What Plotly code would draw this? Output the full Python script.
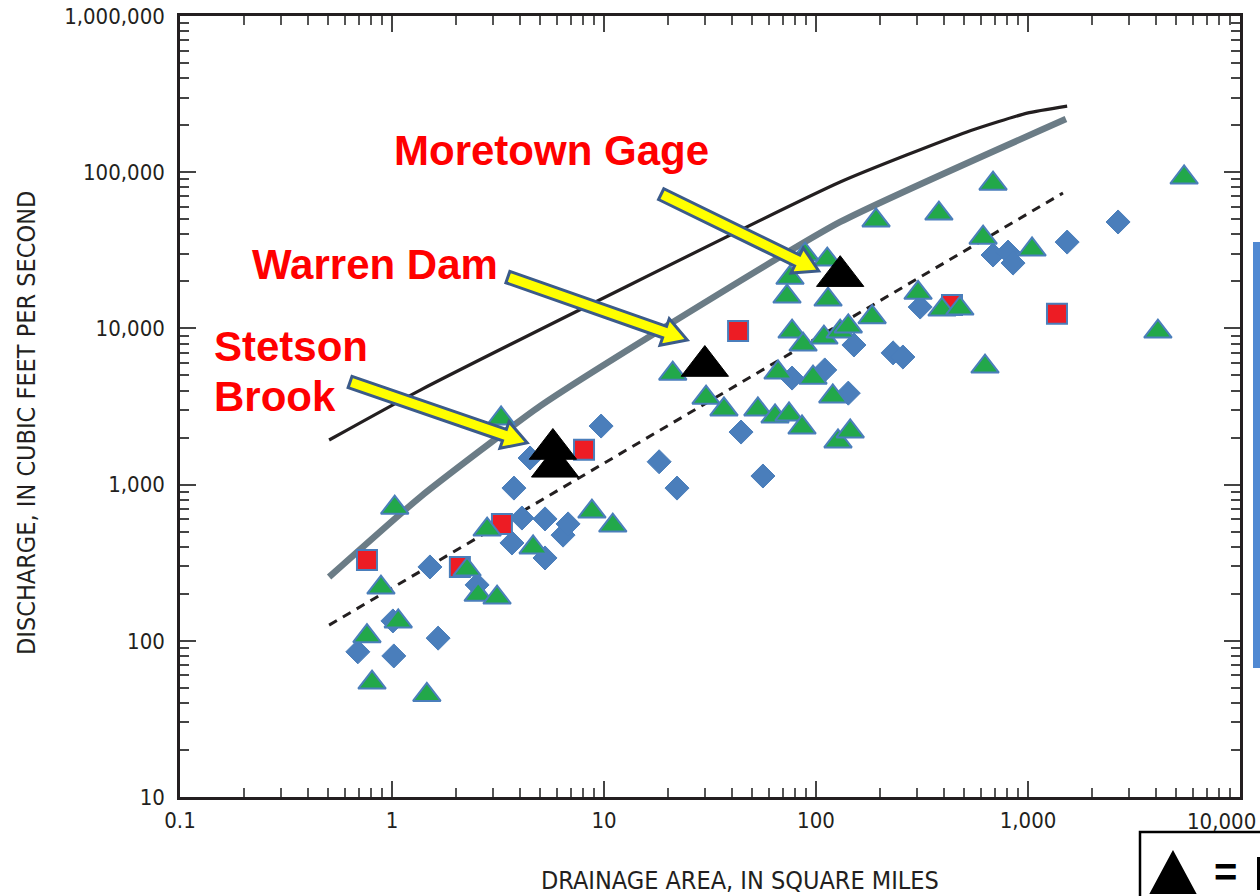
import math
import plotly.graph_objects as go

# ---------------- data ----------------
diamond_x = [0.69, 1.01, 1.02, 1.51, 1.65, 2.52, 3.68, 3.76, 4.10, 5.27, 5.27, 6.41, 6.77, 4.48, 9.69,
             18.2, 22.1, 44.3, 56.2, 77.1, 110, 142, 151, 231, 257, 310, 684, 805, 850, 1530, 2660]
diamond_y = [85, 134, 80, 297, 104, 228, 423, 950, 611, 603, 339, 475, 560, 1480, 2370,
             1400, 950, 2170, 1135, 4810, 5420, 3850, 7830, 6970, 6560, 13700, 29500, 30800, 26200, 35700, 48000]

tri_x = [0.805, 0.762, 1.07, 0.887, 1.46, 1.03, 2.26, 2.55, 3.13, 2.81, 4.63, 3.27, 8.77, 11.0, 21.1,
         30.3, 36.8, 53.2, 64.1, 74.6, 85.9, 66.2, 96.8, 120, 127, 145, 77.1, 86.9, 109, 130, 142, 184,
         73.0, 75.4, 88.8, 113, 114, 192, 380, 684, 5450, 614, 1045, 303, 393, 477, 4100, 627]
tri_y = [54, 107, 133, 219, 45, 712, 286, 197, 189, 515, 396, 2650, 672, 547, 5130,
         3600, 3030, 3030, 2730, 2810, 2320, 5220, 4840, 3670, 1890, 2190, 9540, 7880, 8740, 9540, 10300, 11800,
         16000, 21100, 29700, 27600, 15300, 49100, 54300, 84400, 92500, 38100, 32000, 16900, 13200, 13400, 9540, 5700]

sq_x = [0.762, 2.09, 3.30, 8.05, 42.9, 438, 1370]
sq_y = [329, 297, 560, 1670, 9620, 14100, 12400]

site_x = [5.74, 5.88, 29.9, 130]
site_y = [1690, 1300, 5740, 21600]

env_x = [0.505, 1.36, 130, 515, 990, 1530]
env_y = [1930, 4030, 86500, 181000, 239000, 265000]
gray_x = [0.505, 1.36, 4.99, 18.4, 130, 1510]
gray_y = [256, 834, 3180, 9770, 48000, 219000]
dash_x = [0.505, 1462]
dash_y = [126, 73600]

x_ticks = [0.1, 1, 10, 100, 1000, 10000]
x_ticktext = ["0.1", "1", "10", "100", "1,000", "10,000"]
y_ticks = [10, 100, 1000, 10000, 100000, 1000000]
y_ticktext = ["10", "100", "1,000", "10,000", "100,000", "1,000,000"]

site_labels = [("Moretown Gage", (18.6, 72400), (103, 23300)),
               ("Warren Dam", (3.52, 21300), (24.7, 8430)),
               ("Stetson", (0.634, 4540), (4.34, 1850))]

# ---------------- geometry helpers ----------------
WID, HEI = 1260, 896
ML, MR, MT, MB = 180, 20, 16, 99
PW, PH = WID - ML - MR, HEI - MT - MB
XR, YR = (-1, 4), (1, 6)


def d2px(x, y):
    px = ML + (math.log10(x) - XR[0]) / (XR[1] - XR[0]) * PW
    py = MT + PH - (math.log10(y) - YR[0]) / (YR[1] - YR[0]) * PH
    return px, py


def px2p(px, py):
    return (px - ML) / PW, (MT + PH - py) / PH


def block_arrow(tail, tip, shaft=6.0, head_w=14.0, head_len=24.0):
    tx, ty = d2px(*tail)
    hx, hy = d2px(*tip)
    dx, dy = hx - tx, hy - ty
    ln = math.hypot(dx, dy)
    ux, uy = dx / ln, dy / ln
    nx, ny = -uy, ux
    bx, by = hx - ux * head_len, hy - uy * head_len
    pts = [(tx + nx * shaft, ty + ny * shaft), (bx + nx * shaft, by + ny * shaft),
           (bx + nx * head_w, by + ny * head_w), (hx, hy),
           (bx - nx * head_w, by - ny * head_w), (bx - nx * shaft, by - ny * shaft),
           (tx - nx * shaft, ty - ny * shaft)]
    pp = [px2p(*p) for p in pts]
    return "M " + " L ".join(f"{a:.5f},{b:.5f}" for a, b in pp) + " Z"


fig = go.Figure()

# curves
fig.add_trace(go.Scatter(x=env_x, y=env_y, mode="lines", line=dict(color="#231F20", width=3.2, shape="spline", smoothing=0.5),
                         hoverinfo="skip", showlegend=False))
fig.add_trace(go.Scatter(x=gray_x, y=gray_y, mode="lines", line=dict(color="#6B7C86", width=6.5, shape="spline", smoothing=0.5),
                         hoverinfo="skip", showlegend=False))
fig.add_trace(go.Scatter(x=dash_x, y=dash_y, mode="lines", line=dict(color="#231F20", width=3, dash="9px,7px"),
                         hoverinfo="skip", showlegend=False))

# points
fig.add_trace(go.Scatter(x=diamond_x, y=diamond_y, mode="markers", showlegend=False,
                         marker=dict(symbol="diamond", size=18.5, color="#4A7EBB", line=dict(color="#4A7EBB", width=1))))
fig.add_trace(go.Scatter(x=sq_x, y=sq_y, mode="markers", showlegend=False,
                         marker=dict(symbol="square", size=20, color="#ED1C24", line=dict(color="#4A7EBB", width=2))))
fig.add_trace(go.Scatter(x=tri_x, y=tri_y, mode="markers", showlegend=False,
                         marker=dict(symbol="triangle-up", size=24, color="#22A84A", line=dict(color="#4A7EBB", width=2))))
fig.add_trace(go.Scatter(x=site_x, y=site_y, mode="markers", showlegend=False,
                         marker=dict(symbol="triangle-up", size=41, color="#000000", line=dict(color="#000000", width=1))))

shapes = []
for name, tail, tip in site_labels:
    shapes.append(dict(type="path", xref="paper", yref="paper", path=block_arrow(tail, tip),
                       fillcolor="#FFFF00", line=dict(color="#3B5B8A", width=3), layer="above"))

# blue bar at right edge
bx0, by0 = px2p(1253, 242)
bx1, by1 = px2p(1262, 668)
shapes.append(dict(type="rect", xref="paper", yref="paper", x0=bx0, x1=bx1, y0=by1, y1=by0,
                   fillcolor="#5089D3", line=dict(width=0), layer="above"))
# key box at bottom right (cut off by the page edge in the reference)
kx0, ky0 = px2p(1140, 832)
kx1, ky1 = px2p(1275, 910)
shapes.append(dict(type="rect", xref="paper", yref="paper", x0=kx0, x1=kx1, y0=ky1, y1=ky0,
                   fillcolor="white", line=dict(color="#000000", width=2.5), layer="above"))
t1, t2, t3 = px2p(1173, 852), px2p(1151, 893), px2p(1195, 893)
shapes.append(dict(type="path", xref="paper", yref="paper",
                   path=f"M {t1[0]:.5f},{t1[1]:.5f} L {t2[0]:.5f},{t2[1]:.5f} L {t3[0]:.5f},{t3[1]:.5f} Z",
                   fillcolor="#000000", line=dict(color="#000000", width=2), layer="above"))
# sliver of the first (clipped) letter of the key text
sx0, sy0 = px2p(1257, 857)
sx1, sy1 = px2p(1264, 890)
shapes.append(dict(type="rect", xref="paper", yref="paper", x0=sx0, x1=sx1, y0=sy1, y1=sy0,
                   fillcolor="#000000", line=dict(width=0), layer="above"))

red_font = dict(family="Liberation Sans, Arial, sans-serif", size=42, color="#FF0000")
ann = []
for txt, (px, py) in [("<b>Moretown Gage</b>", (392, 150)), ("<b>Warren Dam</b>", (250, 264)),
                      ("<b>Stetson</b>", (212, 346)), ("<b>Brook</b>", (212, 396))]:
    ax, ay = px2p(px, py)
    ann.append(dict(text=txt, x=ax, y=ay, xref="paper", yref="paper", xanchor="left", yanchor="middle",
                    showarrow=False, font=red_font))

axis_font = "Liberation Sans Narrow, Arial Narrow, DejaVu Sans Condensed, sans-serif"
tick_font = dict(family=axis_font, size=22, color="#231F20")

# last x tick label is pulled inward so it stays on the page (as in the reference)
shown_ticktext = x_ticktext[:-1] + [""]
lx, ly = px2p(1258, 821)
ann.append(dict(text=x_ticktext[-1], x=lx, y=ly, xref="paper", yref="paper", xanchor="right", yanchor="middle",
                showarrow=False, font=tick_font))

ax_, ay_ = px2p(740, 880)
ann.append(dict(text="DRAINAGE AREA, IN SQUARE MILES", x=ax_, y=ay_, xref="paper", yref="paper",
                xanchor="center", yanchor="middle",
                showarrow=False, font=dict(family=axis_font, size=25, color="#231F20")))
ax_, ay_ = px2p(26, 423)
ann.append(dict(text="DISCHARGE, IN CUBIC FEET PER SECOND", x=ax_, y=ay_, xref="paper", yref="paper",
                xanchor="center", yanchor="middle",
                showarrow=False, textangle=-90, font=dict(family=axis_font, size=25, color="#231F20")))
ax_, ay_ = px2p(1212, 872)
ann.append(dict(text="<b>=</b>", x=ax_, y=ay_, xref="paper", yref="paper", xanchor="left",
                yanchor="middle", showarrow=False,
                font=dict(family="Liberation Sans, Arial, sans-serif", size=40, color="#000000")))

minor_x = [m * 10 ** e for e in range(-1, 4) for m in range(2, 10)]
minor_y = [m * 10 ** e for e in range(1, 6) for m in range(2, 10)]

common = dict(type="log", showgrid=False, zeroline=False, showline=True, linecolor="#231F20", linewidth=2.5,
              mirror="allticks", ticks="inside", ticklen=16, tickwidth=1.5, tickcolor="#444444",
              automargin=False, tickfont=tick_font)

fig.update_layout(
    width=WID, height=HEI,
    margin=dict(l=ML, r=MR, t=MT, b=MB, autoexpand=False),
    paper_bgcolor="white", plot_bgcolor="white",
    xaxis=dict(range=list(XR), tickvals=x_ticks, ticktext=shown_ticktext, ticklabelstandoff=2,
               ticklabeloverflow="allow",
               minor=dict(tickvals=minor_x, ticks="inside", ticklen=9, tickwidth=1.5, tickcolor="#555555"),
               **common),
    yaxis=dict(range=list(YR), tickvals=y_ticks, ticktext=y_ticktext, ticklabelstandoff=8,
               ticklabeloverflow="allow",
               minor=dict(tickvals=minor_y, ticks="inside", ticklen=9, tickwidth=1.5, tickcolor="#444444"),
               **common),
    shapes=shapes, annotations=ann, showlegend=False,
)

fig.write_html("out.html", config={"displayModeBar": False},
               post_script="document.body.style.margin='0';document.body.style.overflow='hidden';")
